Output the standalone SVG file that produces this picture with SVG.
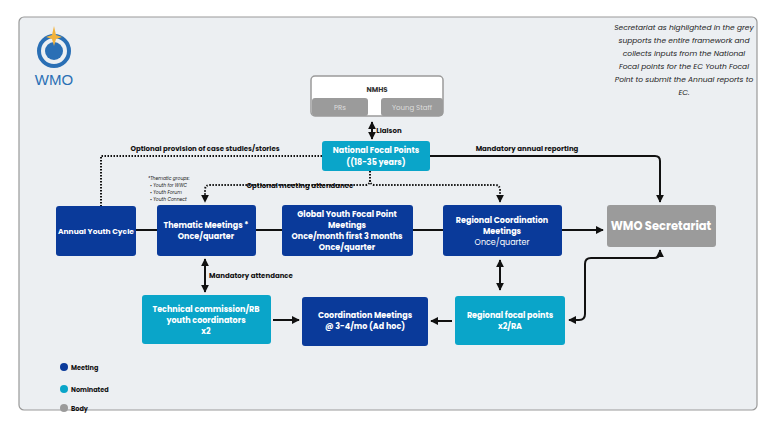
<svg xmlns="http://www.w3.org/2000/svg" width="768" height="432" viewBox="0 0 768 432">
<defs>
<marker id="ah" viewBox="0 0 10 10" refX="9" refY="5" markerWidth="4" markerHeight="4" orient="auto-start-reverse"><path d="M0,0L10,5L0,10z" fill="#111"/></marker>
<style>
text{font-family:Poppins,"Noto Sans","Liberation Sans",sans-serif;font-weight:700;text-anchor:middle;fill:#fff;font-size:8px}
.lbl{fill:#111;font-size:7px}
.dk{fill:#0a3a9a}.lt{fill:#0aa5c9}.gr{fill:#9b9b9b}
.ln{fill:none;stroke:#111;stroke-width:2}
.dt{fill:none;stroke:#111;stroke-width:2;stroke-dasharray:1.5 1.5}
.it{font-style:italic;font-weight:400;fill:#222}
</style>
</defs>
<rect x="19" y="17" width="738" height="393" rx="5" fill="#eceff2" stroke="#999" stroke-width="1.2"/>
<g id="logo">
<circle cx="54" cy="51" r="15" fill="none" stroke="#2a6fb5" stroke-width="4"/>
<circle cx="54" cy="51" r="9" fill="#2a6fb5"/>
<path d="M54,26 L56,35 L62,37 L56,39 L54,46 L52,39 L46,37 L52,35z" fill="#f2b33d"/>
<text x="54" y="85" style="fill:#2a6fb5;font-weight:400;font-size:15px;font-family:'Liberation Sans',sans-serif">WMO</text>
</g>
<g id="note">
<text class="it" x="684" y="30" style="font-size:7.5px">Secretariat as highlighted in the grey</text>
<text class="it" x="684" y="43" style="font-size:7.5px">supports the entire framework and</text>
<text class="it" x="684" y="56" style="font-size:7.5px">collects inputs from the National</text>
<text class="it" x="684" y="69" style="font-size:7.5px">Focal points for the EC Youth Focal</text>
<text class="it" x="684" y="82" style="font-size:7.5px">Point to submit the Annual reports to</text>
<text class="it" x="684" y="95" style="font-size:7.5px">EC.</text>
</g>
<g id="connectors">
<line class="ln" x1="372" y1="122" x2="372" y2="139" marker-start="url(#ah)" marker-end="url(#ah)"/>
<path class="dt" d="M322,156 H101 V206"/>
<path class="ln" d="M430,156 H655 Q660,156 660,161 V202" marker-end="url(#ah)"/>
<path class="dt" d="M370,171 V180 Q370,185 365,185 H210 Q205,185 205,190 V202" marker-end="url(#ah)"/>
<path class="dt" d="M370,180 Q370,185 375,185 H495 Q500,185 500,190 V202" marker-end="url(#ah)"/>
<line class="ln" x1="136" y1="230" x2="157" y2="230"/>
<line class="ln" x1="256" y1="230" x2="282" y2="230"/>
<line class="ln" x1="413" y1="230" x2="443" y2="230"/>
<line class="ln" x1="562" y1="230" x2="603" y2="230" marker-end="url(#ah)"/>
<line class="ln" x1="205" y1="259" x2="205" y2="292" marker-start="url(#ah)" marker-end="url(#ah)"/>
<line class="ln" x1="500" y1="260" x2="500" y2="290" marker-start="url(#ah)" marker-end="url(#ah)"/>
<line class="ln" x1="273" y1="320" x2="299" y2="320" marker-end="url(#ah)"/>
<line class="ln" x1="452" y1="321" x2="431" y2="321" marker-end="url(#ah)"/>
<path class="ln" d="M569,320 H579 Q585,320 585,314 V264 Q585,258 591,258 H654 Q660,258 660,252 V250" marker-start="url(#ah)" marker-end="url(#ah)"/>
<text class="lbl" x="389" y="133" style="font-size:7px">Liaison</text>
<text class="lbl" x="205" y="151">Optional provision of case studies/stories</text>
<text class="lbl" x="527" y="151">Mandatory annual reporting</text>
<text class="lbl" x="300" y="188">Optional meeting attendance</text>
<text class="lbl" x="251" y="278">Mandatory attendance</text>
</g>
<g id="thematic-note">
<text class="it" x="148" y="180" style="text-anchor:start;font-size:4.5px">*Thematic groups:</text>
<text class="it" x="150" y="187" style="text-anchor:start;font-size:4.5px">•  Youth for WWC</text>
<text class="it" x="150" y="194" style="text-anchor:start;font-size:4.5px">•  Youth Forum</text>
<text class="it" x="150" y="201" style="text-anchor:start;font-size:4.5px">•  Youth Connect</text>
</g>
<g id="nmhs">
<rect x="311" y="76" width="132" height="40" rx="4" fill="#fff" stroke="#9b9b9b" stroke-width="1.5"/>
<text x="377" y="92" style="fill:#333;font-size:7px">NMHS</text>
<rect class="gr" x="312" y="98" width="56" height="18" rx="3"/>
<rect class="gr" x="381" y="98" width="62" height="18" rx="3"/>
<text x="340" y="110" style="font-weight:400;font-size:7px;fill:#ddd">PRs</text>
<text x="412" y="110" style="font-weight:400;font-size:7px;fill:#ddd">Young Staff</text>
</g>
<g id="nfp"><rect class="lt" x="322" y="141" width="108" height="30" rx="3"/>
<text x="376" y="153">National Focal Points</text><text x="376" y="165">((18-35 years)</text></g>
<g id="annual"><rect class="dk" x="56" y="206" width="80" height="50" rx="3"/>
<text x="96" y="234" style="font-size:7.5px">Annual Youth Cycle</text></g>
<g id="thematic"><rect class="dk" x="157" y="205" width="99" height="51" rx="3"/>
<text x="206" y="228">Thematic Meetings *</text><text x="206" y="239">Once/quarter</text></g>
<g id="global"><rect class="dk" x="282" y="205" width="131" height="51" rx="3"/>
<text x="347" y="217">Global Youth Focal Point</text><text x="347" y="228">Meetings</text><text x="347" y="239">Once/month first 3 months</text><text x="347" y="250">Once/quarter</text></g>
<g id="regional"><rect class="dk" x="443" y="205" width="119" height="51" rx="3"/>
<text x="502" y="223">Regional Coordination</text><text x="502" y="234">Meetings</text><text x="502" y="245" style="font-weight:400">Once/quarter</text></g>
<g id="secretariat"><rect class="gr" x="607" y="205" width="109" height="42" rx="3"/>
<text x="661" y="230" style="font-size:11.5px">WMO Secretariat</text></g>
<g id="technical"><rect class="lt" x="142" y="295" width="129" height="49" rx="3"/>
<text x="206" y="312">Technical commission/RB</text><text x="206" y="323">youth coordinators</text><text x="206" y="334">x2</text></g>
<g id="coord"><rect class="dk" x="302" y="297" width="126" height="49" rx="3"/>
<text x="365" y="318">Coordination Meetings</text><text x="365" y="329">@ 3-4/mo (Ad hoc)</text></g>
<g id="rfp"><rect class="lt" x="455" y="296" width="110" height="49" rx="3"/>
<text x="510" y="318">Regional focal points</text><text x="510" y="329">x2/RA</text></g>
<g id="legend">
<circle class="dk" cx="64" cy="367" r="4"/><text class="lbl" x="71" y="370" style="text-anchor:start;font-size:6.5px">Meeting</text>
<circle class="lt" cx="64" cy="389" r="4"/><text class="lbl" x="71" y="392" style="text-anchor:start;font-size:6.5px">Nominated</text>
<circle class="gr" cx="64" cy="408" r="4"/><text class="lbl" x="71" y="411" style="text-anchor:start;font-size:6.5px">Body</text>
</g>
</svg>
